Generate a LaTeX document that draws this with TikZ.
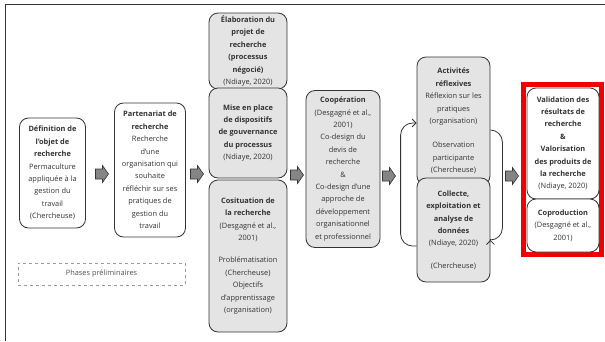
\documentclass[tikz,border=0pt]{standalone}
\usepackage{fontspec}
\setmainfont{Open Sans}
\usetikzlibrary{arrows.meta}
\definecolor{diagink}{HTML}{333333}
\definecolor{diagbox}{HTML}{E4E4E4}
\definecolor{diagarrow}{HTML}{858585}
\definecolor{diagmuted}{HTML}{9A9A9A}
\definecolor{diagred}{HTML}{F00000}

\begin{document}
\begin{tikzpicture}[
  x=1pt,
  y=-1pt,
  every node/.style={font=\fontsize{7.4}{12.4}\selectfont},
  phase/.style={draw=diagink, line width=0.8pt, rounded corners=9pt, align=center, inner sep=1pt, text=diagink},
  white phase/.style={phase, fill=white},
  grey phase/.style={phase, fill=diagbox},
  flow/.pic={
    \draw[diagink, fill=diagarrow, line width=0.6pt]
      (-6.5,-5) -- (0.5,-5) -- (0.5,-8.5) -- (6.5,0) -- (0.5,8.5) -- (0.5,5) -- (-6.5,5) -- cycle;
  },
  loop/.style={diagink, line width=0.8pt, rounded corners=12pt, -{Straight Barb[length=4pt,width=8pt]}}
]
  \useasboundingbox (0,0) rectangle (605,341);

  % cadre
  \draw[diagink, line width=1pt] (605,4) -- (5,4) -- (5,341);

  % phases preliminaires
  \node[white phase, minimum width=66pt, minimum height=110pt] (def) at (52.5,173)
    {\textbf{Définition de}\\\textbf{l'objet de}\\\textbf{recherche}\\Permaculture\\appliquée à la\\gestion du\\travail\\(Chercheuse)};
  \node[white phase, minimum width=71pt, minimum height=134pt] (part) at (150,170)
    {\textbf{Partenariat de}\\\textbf{recherche}\\Recherche\\d'une\\organisation qui\\souhaite\\réfléchir sur ses\\pratiques de\\gestion du\\travail};
  \node[draw=diagmuted, dashed, line width=0.6pt, minimum width=167pt, minimum height=22pt, text=diagink!85] (prelim) at (101.5,274)
    {Phases préliminaires};

  % colonne 3
  \node[grey phase, minimum width=78pt, minimum height=76pt] (elab) at (248,51)
    {\textbf{Élaboration du}\\\textbf{projet de}\\\textbf{recherche}\\\textbf{(processus}\\\textbf{négocié)}\\(Ndiaye, 2020)};
  \node[grey phase, minimum width=78pt, minimum height=90pt] (gouv) at (248,133)
    {\textbf{Mise en place}\\\textbf{de dispositifs}\\\textbf{de gouvernance}\\\textbf{du processus}\\(Ndiaye, 2020)};
  \node[grey phase, minimum width=78pt, minimum height=152pt] (cosit) at (248,256)
    {\textbf{Cosituation de}\\\textbf{la recherche}\\(Desgagné et al.,\\2001)\\[10pt]Problématisation\\(Chercheuse)\\Objectifs\\d'apprentissage\\(organisation)};

  \node[grey phase, minimum width=74pt, minimum height=157pt] (coop) at (343,169)
    {\textbf{Coopération}\\(Desgagné et al.,\\2001)\\Co-design du\\devis de\\recherche\\\&\\Co-design d'une\\approche de\\développement\\organisationnel\\et professionnel};

  % boucle
  \node[grey phase, minimum width=73pt, minimum height=128pt] (refl) at (453.5,121)
    {\textbf{Activités}\\\textbf{réflexives}\\Réflexion sur les\\pratiques\\(organisation)\\[12pt]Observation\\participante\\(Chercheuse)};
  \node[grey phase, minimum width=73pt, minimum height=104pt] (coll) at (453.5,230)
    {\textbf{Collecte,}\\\textbf{exploitation et}\\\textbf{analyse de}\\\textbf{données}\\(Ndiaye, 2020)\\[10pt](Chercheuse)};
  \draw[loop] ([yshift=-16pt]coll.west) -- ++(-16,0) |- ([yshift=-2pt]refl.west);
  \draw[loop] ([yshift=-9pt]refl.east) -- ++(12,0) |- ([yshift=-10pt]coll.east);

  % resultats
  \draw[diagred, line width=5pt] (523.5,84.5) rectangle (601.5,254.5);
  \node[white phase, minimum width=72pt, minimum height=111pt] (valid) at (563,143.5)
    {\textbf{Validation des}\\\textbf{résultats de}\\\textbf{recherche}\\\textbf{\&}\\\textbf{Valorisation}\\\textbf{des produits de}\\\textbf{la recherche}\\(Ndiaye, 2020)};
  \node[white phase, minimum width=72pt, minimum height=53pt] (copro) at (563,225.5)
    {\textbf{Coproduction}\\(Desgagné et al.,\\2001)};

  % fleches
  \pic (f1) at (102,174) {flow};
  \pic (f2) at (197,174) {flow};
  \pic (f3) at (297,175) {flow};
  \pic (f4) at (389,176) {flow};
  \pic (f5) at (512,176) {flow};
\end{tikzpicture}
\end{document}
